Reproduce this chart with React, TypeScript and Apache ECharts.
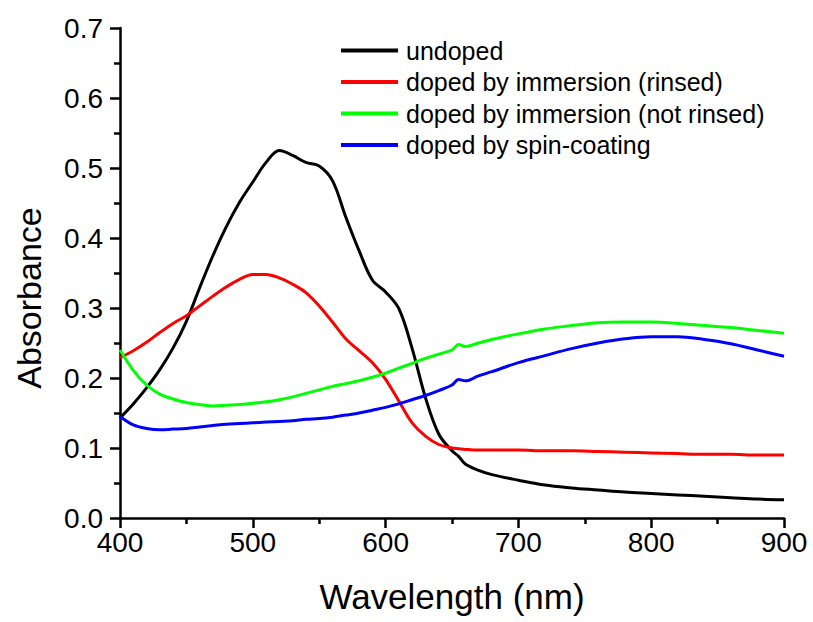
import React, { useEffect, useRef } from "react";
import * as echarts from "echarts";

const wavelengths = [400, 410, 420, 430, 440, 450, 460, 470, 480, 490, 500, 510, 520, 530, 540, 550, 560, 570, 580, 590, 600, 610, 620, 630, 640, 650, 655, 660, 670, 680, 700, 720, 740, 760, 780, 800, 820, 840, 860, 880, 900];

const undoped = [0.143, 0.163, 0.186, 0.212, 0.243, 0.281, 0.329, 0.375, 0.416, 0.451, 0.480, 0.508, 0.525, 0.518, 0.508, 0.503, 0.482, 0.430, 0.382, 0.340, 0.323, 0.299, 0.242, 0.172, 0.120, 0.096, 0.088, 0.077, 0.068, 0.062, 0.054, 0.047, 0.043, 0.040, 0.037, 0.035, 0.033, 0.031, 0.029, 0.027, 0.026];

const rinsed = [0.229, 0.239, 0.251, 0.265, 0.278, 0.289, 0.303, 0.317, 0.330, 0.341, 0.348, 0.348, 0.343, 0.334, 0.322, 0.303, 0.280, 0.256, 0.239, 0.222, 0.198, 0.167, 0.136, 0.117, 0.105, 0.100, 0.099, 0.098, 0.097, 0.097, 0.097, 0.096, 0.096, 0.095, 0.094, 0.093, 0.092, 0.091, 0.091, 0.090, 0.090];

const notRinsed = [0.240, 0.211, 0.190, 0.177, 0.170, 0.165, 0.162, 0.160, 0.161, 0.162, 0.164, 0.166, 0.169, 0.173, 0.178, 0.183, 0.188, 0.192, 0.196, 0.201, 0.207, 0.214, 0.221, 0.228, 0.234, 0.240, 0.248, 0.245, 0.250, 0.255, 0.263, 0.270, 0.275, 0.279, 0.280, 0.280, 0.278, 0.275, 0.272, 0.268, 0.264];

const spinCoating = [0.145, 0.133, 0.128, 0.126, 0.127, 0.128, 0.130, 0.132, 0.134, 0.135, 0.136, 0.137, 0.138, 0.139, 0.141, 0.142, 0.144, 0.147, 0.150, 0.154, 0.158, 0.163, 0.169, 0.175, 0.182, 0.190, 0.198, 0.196, 0.203, 0.209, 0.222, 0.232, 0.242, 0.250, 0.256, 0.259, 0.259, 0.255, 0.249, 0.240, 0.231];

const seriesNames = [
  "undoped",
  "doped by immersion (rinsed)",
  "doped by immersion (not rinsed)",
  "doped by spin-coating",
];
const seriesColors = ["#000000", "#ff0000", "#00ff00", "#0000ff"];
const seriesValues = [undoped, rinsed, notRinsed, spinCoating];

const FONT = "'Liberation Sans', Arial, sans-serif";

export default function App() {
  const ref = useRef<HTMLDivElement>(null);

  useEffect(() => {
    if (!ref.current) return;
    const chart = echarts.init(ref.current, undefined, { renderer: "svg" });
    const axisCommon = {
      axisLine: { show: true, lineStyle: { color: "#000", width: 2.5 } },
      axisTick: { show: true, inside: false, length: 10, lineStyle: { color: "#000", width: 2.5 } },
      minorTick: { show: true, splitNumber: 2, length: 6, lineStyle: { color: "#000", width: 2.5 } },
      splitLine: { show: false },
      minorSplitLine: { show: false },
    };
    chart.setOption({
      animation: false,
      backgroundColor: "#ffffff",
      grid: { left: 120, right: 29, top: 28, bottom: 104, containLabel: false },
      legend: {
        orient: "vertical",
        left: 336,
        top: 33,
        itemWidth: 57,
        itemHeight: 4,
        itemGap: 6.5,
        icon: "rect",
        data: seriesNames,
        textStyle: {
          fontFamily: FONT,
          fontSize: 25,
          lineHeight: 25,
          color: "#000",
          padding: [0, 0, 0, 3],
        },
      },
      xAxis: {
        type: "value",
        min: 400,
        max: 900,
        interval: 100,
        name: "Wavelength (nm)",
        nameLocation: "middle",
        nameGap: 61,
        nameTextStyle: { fontFamily: FONT, fontSize: 35, color: "#000" },
        axisLabel: { fontFamily: FONT, fontSize: 28, color: "#000", margin: 10 },
        ...axisCommon,
      },
      yAxis: {
        type: "value",
        min: 0,
        max: 0.7,
        interval: 0.1,
        axisLabel: {
          fontFamily: FONT,
          fontSize: 28,
          color: "#000",
          margin: 17,
          formatter: (v: number) => v.toFixed(1),
        },
        ...axisCommon,
      },
      graphic: [
        {
          type: "text",
          x: 29,
          y: 298,
          rotation: Math.PI / 2,
          style: {
            text: "Absorbance",
            font: `34px ${FONT}`,
            fill: "#000",
            textAlign: "center",
            textVerticalAlign: "middle",
          },
        },
      ],
      series: seriesNames.map((name, i) => ({
        name,
        type: "line",
        showSymbol: false,
        symbol: "none",
        smooth: 0.35,
        lineStyle: { color: seriesColors[i], width: 3 },
        itemStyle: { color: seriesColors[i] },
        data: wavelengths.map((w, j) => [w, seriesValues[i][j]]),
      })),
    });
    return () => chart.dispose();
  }, []);

  return (
    <div
      ref={ref}
      style={{ position: "absolute", left: 0, top: 0, width: 813, height: 622, background: "#fff" }}
    />
  );
}
